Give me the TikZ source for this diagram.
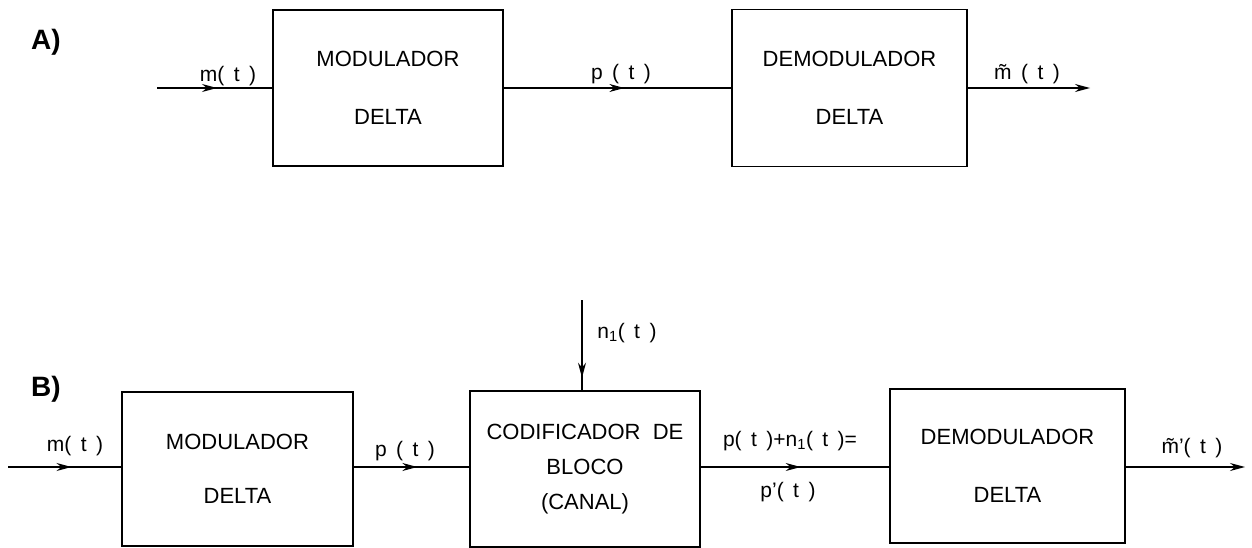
\documentclass[tikz,border=0pt]{standalone}
\usepackage{fontspec}
\setmainfont{Liberation Sans}
\usetikzlibrary{arrows.meta,decorations.markings}
\newcommand{\gp}{\hspace{0.45em}}
\newcommand{\tm}{\ooalign{m\cr\hidewidth\char"02DC\hidewidth\cr}}
\begin{document}
\begin{tikzpicture}[x=1pt,y=-1pt,
  blk/.style={draw,line width=1.3pt,minimum width=230pt,minimum height=155pt,align=center,inner sep=0pt,font=\fontsize{22}{26}\selectfont},
  wire/.style={line width=1.1pt},
  midarr/.style={postaction={decorate},decoration={markings,mark=at position #1 with {\arrow{Stealth[length=15pt,width=8pt]}}}},
  endarr/.style={-{Stealth[length=15pt,width=8pt]}},
  lbl/.style={font=\fontsize{21}{24}\selectfont,inner sep=0pt,anchor=base},
  tag/.style={font=\bfseries\fontsize{28}{30}\selectfont,inner sep=0pt}]
\useasboundingbox (0,0) rectangle (1252,548);
% row A
\node[tag] (tA) at (46,42) {A)};
\node[blk,minimum width=230pt,minimum height=156pt] (A1) at (388,88) {MODULADOR\\[32pt]DELTA};
\node[blk,minimum width=235pt,minimum height=157pt] (A2) at (849.5,88) {DEMODULADOR\\[32pt]DELTA};
\coordinate (ain) at (157,88);
\coordinate (aout) at (1090,88);
\draw[wire,midarr=0.52] (ain) -- (A1.west);
\draw[wire,midarr=0.53] (A1.east) -- (A2.west);
\draw[wire,endarr] (A2.east) -- (aout);
\node[lbl] (la1) at (228,82) {m(\gp t\gp)};
\node[lbl] (la2) at (621,80) {p\gp(\gp t\gp)};
\node[lbl] (la3) at (1027,80) {\tm\gp(\gp t\gp)};
% row B
\node[tag] (tB) at (46,389) {B)};
\node[blk,minimum width=231pt,minimum height=154pt] (B1) at (237.5,469) {MODULADOR\\[28pt]DELTA};
\node[blk,minimum width=230pt,minimum height=156pt] (B2) at (585,469) {CODIFICADOR\ \ DE\\[9pt]BLOCO\\[9pt](CANAL)};
\node[blk,minimum width=235pt,minimum height=154pt] (B3) at (1007.5,466) {DEMODULADOR\\[32pt]DELTA};
\coordinate (bin) at (8,467);
\coordinate (bout) at (1245,467);
\coordinate (ntop) at (582,300);
\draw[wire,midarr=0.56] (bin) -- (B1.west|-bin);
\draw[wire,midarr=0.55] (B1.east|-bin) -- (B2.west|-bin);
\draw[wire,midarr=0.53] (B2.east|-bin) -- (B3.west|-bin);
\draw[wire,endarr] (B3.east|-bin) -- (bout);
\draw[wire,midarr=0.86] (ntop) -- (B2.north-|ntop);
\node[lbl] (lb1) at (75,451) {m(\gp t\gp)};
\node[lbl] (lb2) at (405,456) {p\gp(\gp t\gp)};
\node[lbl] (lb3) at (627,338) {n\textsubscript{1}(\gp t\gp)};
\node[lbl] (lb4) at (790,446) {p(\gp t\gp)+n\textsubscript{1}(\gp t\gp)=};
\node[lbl] (lb5) at (788,497) {p'(\gp t\gp)};
\node[lbl] (lb6) at (1192,453) {\tm'(\gp t\gp)};
\end{tikzpicture}
\end{document}
